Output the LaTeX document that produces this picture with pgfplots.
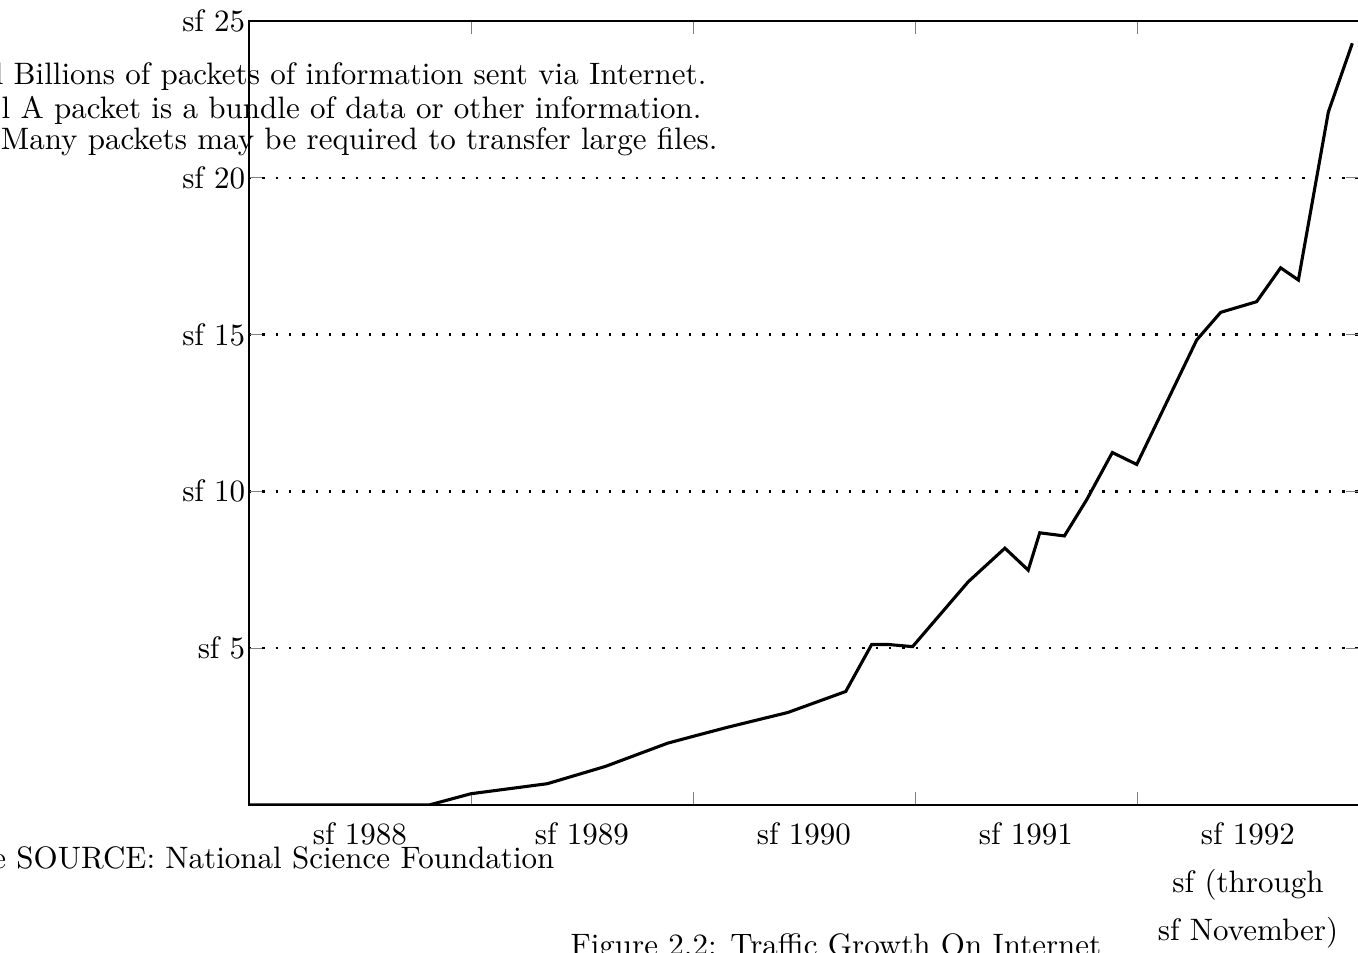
\documentclass[border=0pt]{standalone}
\usepackage{pgfplots}
\pgfplotsset{compat=1.18}
\begin{document}
\begin{tikzpicture}
% page = reference frame, axis box at its south west corner = (0,0)
\path[use as bounding box] (-80.32pt,-47.42pt) rectangle (357.74pt,259.68pt);
\begin{axis}[
    at={(0pt,0pt)}, anchor=south west,
    scale only axis,
    width=358.06pt, height=252.9pt,
    xmin=1988, xmax=1993,
    ymin=0, ymax=25,
    xtick={1989,1990,1991,1992},
    xticklabels={},
    xticklabel style={yshift=-2pt},
    extra x ticks={1988.5,1989.5,1990.5,1991.5,1992.5},
    extra x tick labels={sf 1988, sf 1989, sf 1990, sf 1991,
        {sf 1992\\[3.5pt]sf (through\\[3.5pt]sf November)}},
    extra x tick style={major tick length=0pt, grid=none,
        tick label style={align=center}},
    ytick={5,10,15,20,25},
    yticklabels={sf 5, sf 10, sf 15, sf 20, sf 25},
    yticklabel style={inner xsep=1pt},
    ymajorgrids,
    grid style={black, line width=0.8pt, dash pattern=on 0.8pt off 3.5pt},
]
\addplot[black, line width=1pt, mark=none] table {
x y
1988.000 0
1988.811 0
1989.000 0.36
1989.344 0.68
1989.605 1.23
1989.885 1.97
1990.006 2.20
1990.156 2.48
1990.427 2.95
1990.688 3.62
1990.805 5.12
1990.878 5.12
1990.989 5.05
1991.240 7.12
1991.405 8.19
1991.510 7.49
1991.562 8.68
1991.673 8.58
1991.773 9.73
1991.889 11.24
1991.999 10.86
1992.269 14.83
1992.377 15.71
1992.539 16.05
1992.647 17.13
1992.727 16.74
1992.862 22.10
1992.970 24.29
};
\end{axis}
\node[anchor=base east, inner sep=0pt] at (147.74pt,232.26pt) {l Billions of packets of information sent via Internet.};
\node[anchor=base east, inner sep=0pt] at (146.13pt,221.61pt) {l A packet is a bundle of data or other information.};
\node[anchor=base east, inner sep=0pt] at (151.29pt,211.29pt) {l Many packets may be required to transfer large files.};
\node[anchor=east, inner sep=0pt] at (98.71pt,-17.10pt) {note SOURCE: National Science Foundation};
\node[anchor=base west, inner sep=0pt] at (103.55pt,-48.40pt) {Figure 2.2: Traffic Growth On Internet};
\end{tikzpicture}
\end{document}
